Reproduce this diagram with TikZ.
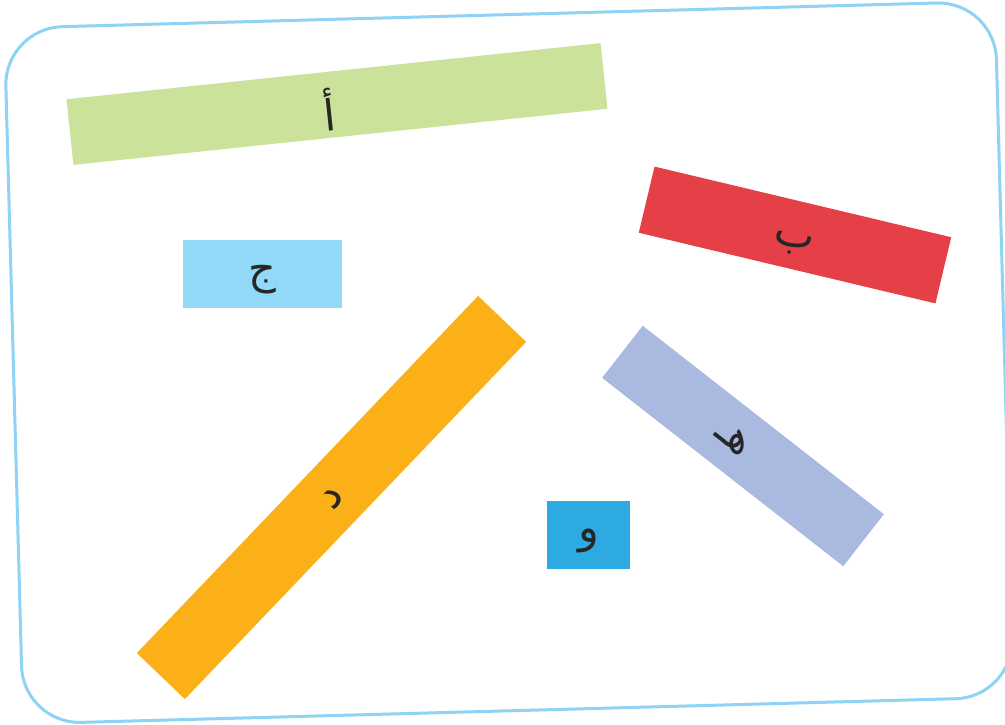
\documentclass[tikz,border=0pt]{standalone}
\usepackage{fontspec}
\newfontfamily\arabicfont[Script=Arabic]{DejaVu Sans}
\TeXXeTstate=1
\definecolor{framecol}{HTML}{8ED3F4}
\definecolor{cgreen}{HTML}{CBE29B}
\definecolor{cred}{HTML}{E54047}
\definecolor{clight}{HTML}{92D8F7}
\definecolor{corange}{HTML}{FBB017}
\definecolor{cpurple}{HTML}{A9B9E0}
\definecolor{cblue}{HTML}{2EAAE2}
\newcommand{\arlbl}[2]{\raisebox{#1}[\height][\depth]{\beginR #2\endR}}
\tikzset{
  card/.style={rectangle, inner sep=0pt, outer sep=0pt, draw=none, text=black!85,
    font=\arabicfont\fontsize{43}{43}\selectfont},
  frame/.style={rectangle, draw=framecol, line width=3pt, rounded corners=58pt,
    minimum width=991pt, minimum height=696pt, inner sep=0pt}
}
\begin{document}
\begin{tikzpicture}[x=1pt,y=1pt]
\clip (0,0) rectangle (1005,724);
\fill[white] (0,0) rectangle (1005,724);
\node[frame, rotate=1.55] (frm) at (509,361.3) {};
\node[card, fill=cgreen, minimum width=537pt, minimum height=66pt, rotate=6] (a) at (337,620) {\arlbl{-5pt}{أ}\kern16pt};
\node[card, fill=cred, minimum width=305pt, minimum height=68pt, rotate=-13.4] (b) at (795,489) {\arlbl{-9pt}{ب}};
\node[card, fill=clight, minimum width=159pt, minimum height=68pt] (c) at (262.5,450) {\arlbl{-6pt}{ج}};
\node[card, fill=corange, minimum width=494pt, minimum height=66.5pt, rotate=46.3] (d) at (331.5,226.5) {\arlbl{-2pt}{د}};
\node[card, fill=cpurple, minimum width=306pt, minimum height=66pt, rotate=-38] (e) at (743,278) {\arlbl{0pt}{هـ}\kern24pt};
\node[card, fill=cblue, minimum width=83pt, minimum height=68pt] (f) at (588.5,189) {\arlbl{-6pt}{و}};
\end{tikzpicture}
\end{document}
